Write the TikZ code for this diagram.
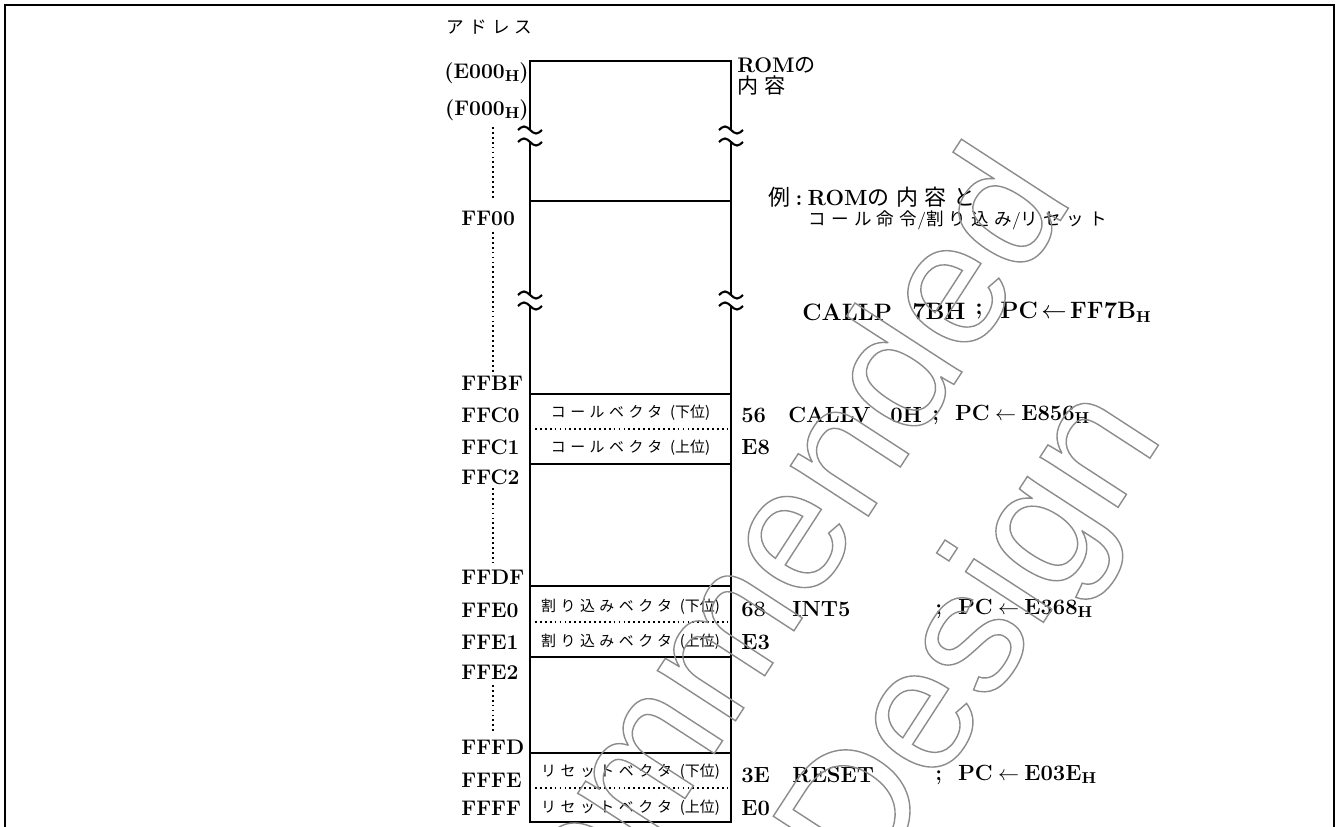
\documentclass[tikz,border=0pt]{standalone}
\usepackage{fontspec}
\newfontfamily\jp{Noto Sans CJK JP}
\newfontfamily\jpw[LetterSpace=30]{Noto Sans CJK JP}
\newfontfamily\wmfont{Liberation Sans}
\usetikzlibrary{positioning}
\newcommand\jtxt[1]{{\mdseries\jpw #1}}
\newcommand\Hsub{\raisebox{-0.35ex}{\fontsize{9}{9}\selectfont H}}
\newcommand\hollow[1]{\special{pdf:literal direct 1 Tr 0.8 w}#1\special{pdf:literal direct 0 Tr}}

\begin{document}
\begin{tikzpicture}[x=0.02cm,y=-0.02cm,font=\fontsize{12}{13}\selectfont\bfseries,
    addr/.style={anchor=west,inner sep=0pt},
    cell/.style={inner sep=0pt,font=\fontsize{8.5}{10}\selectfont\mdseries\jpw},
    code/.style={anchor=west,inner sep=0pt,font=\fontsize{12.5}{14}\selectfont\bfseries},
    bigcode/.style={code,font=\fontsize{13.5}{15}\selectfont\bfseries},
    wall/.style={line width=1.1pt},
    dots/.style={line width=1pt,dash pattern=on 1pt off 1.8pt},
    wave/.style={line width=1.2pt},
    wm/.style={inner sep=0pt,text=black!45,rotate=57,anchor=base east,
               font=\fontsize{100}{110}\selectfont\mdseries\wmfont}]
    \useasboundingbox (0,0) rectangle (1339,827);
    \draw[line width=1.4pt] (5,827) -- (5,5) -- (1334,5) -- (1334,827);
    % memory map
    \draw[wall] (530,130) -- (530,61) -- (731,61) -- (731,130);
    \draw[wall] (530,142) -- (530,295); \draw[wall] (731,142) -- (731,295);
    \draw[wall] (530,306) -- (530,822) -- (731,822) -- (731,306);
    \foreach \y in {201,394,464,586,657,753} \draw[wall] (530,\y) -- (731,\y);
    \foreach \y in {429,622,788} \draw[dots] (535,\y) -- (727,\y);
    \foreach \x in {530,731} \foreach \y in {130,142,295,306}
      \draw[wave] (\x-12,\y) sin (\x-6,\y-3.5) cos (\x,\y) sin (\x+6,\y+3.5) cos (\x+12,\y);
    \node[cell] (callvlo) at (630.5,413) {コールベクタ {\jp(下位)}};
    \node[cell] (callvhi) at (630.5,448) {コールベクタ {\jp(上位)}};
    \node[cell] (intlo) at (630.5,607) {割り込みベクタ {\jp(下位)}};
    \node[cell] (inthi) at (630.5,642) {割り込みベクタ {\jp(上位)}};
    \node[cell] (rstlo) at (630.5,772) {リセットベクタ {\jp(下位)}};
    \node[cell] (rsthi) at (630.5,808) {リセットベクタ {\jp(上位)}};
    % addresses
    \node[addr,font=\fontsize{10}{11}\selectfont\mdseries\jpw] (adrs) at (446,27) {アドレス};
    \node[anchor=east,inner sep=0pt] (e000) at (529,73) {(E000\Hsub)};
    \node[anchor=east,inner sep=0pt] (f000) at (529,110) {(F000\Hsub)};
    \foreach \a/\y in {FF00/218,FFBF/383,FFC0/415,FFC1/447,FFC2/477,FFDF/577,
                       FFE0/610,FFE1/642,FFE2/672,FFFD/747,FFFE/780,FFFF/808}
      \node[addr] (a\a) at (461,\y) {\a};
    \foreach \ya/\yb in {127/200,232/372,488/563,685/732} \draw[dots] (493,\ya) -- (493,\yb);
    % contents
    \node[anchor=north west,inner sep=0pt,align=left,font=\fontsize{12}{12}\selectfont\bfseries]
      (rom) at (737,57) {ROM\jtxt{の}\\\jtxt{内容}};
    \node[code] (ex1) at (768,197) {\jtxt{例}\hspace{3pt}:\hspace{3pt}ROM\jtxt{の内容と}};
    \node[code,font=\fontsize{10}{11}\selectfont\bfseries] (ex2) at (808,220)
      {\jtxt{コール命令}{\mdseries/}\jtxt{割り込み}{\mdseries/}\jtxt{リセット}};
    \node[bigcode] (callp) at (802,312) {CALLP};
    \node[bigcode] (callpop) at (912,312) {7BH};
    \node[bigcode] (callpsc) at (975,312) {;};
    \node[bigcode] (callppc) at (1000,312) {PC\hspace{2pt}$\leftarrow$\hspace{2pt}FF7B\Hsub};
    \node[code] (b56) at (741,415) {56};
    \node[code] (callv) at (788,415) {CALLV};
    \node[code] (callvop) at (890,415) {0H};
    \node[code] (callvpc) at (932,415) {;\hspace{9pt}PC\hspace{3pt}$\leftarrow$\hspace{3pt}E856\Hsub};
    \node[code] (be8) at (741,447) {E8};
    \node[code] (b68) at (741,609) {68};
    \node[code] (int5) at (792,609) {INT5};
    \node[code] (int5pc) at (935,609) {;\hspace{9pt}PC\hspace{3pt}$\leftarrow$\hspace{3pt}E368\Hsub};
    \node[code] (be3) at (741,642) {E3};
    \node[code] (b3e) at (741,775) {3E};
    \node[code] (reset) at (792,775) {RESET};
    \node[code] (resetpc) at (935,775) {;\hspace{9pt}PC\hspace{3pt}$\leftarrow$\hspace{3pt}E03E\Hsub};
    \node[code] (be0) at (741,808) {E0};
    % watermark
    \begin{scope}
      \clip (5,5) rectangle (1334,827);
      \node[wm] (wm1) at (1075,198) {\hollow{Not Recommended}};
      \node[wm] (wm2) at (1165,435) {\hollow{for New Design}};
    \end{scope}
\end{tikzpicture}
\end{document}
